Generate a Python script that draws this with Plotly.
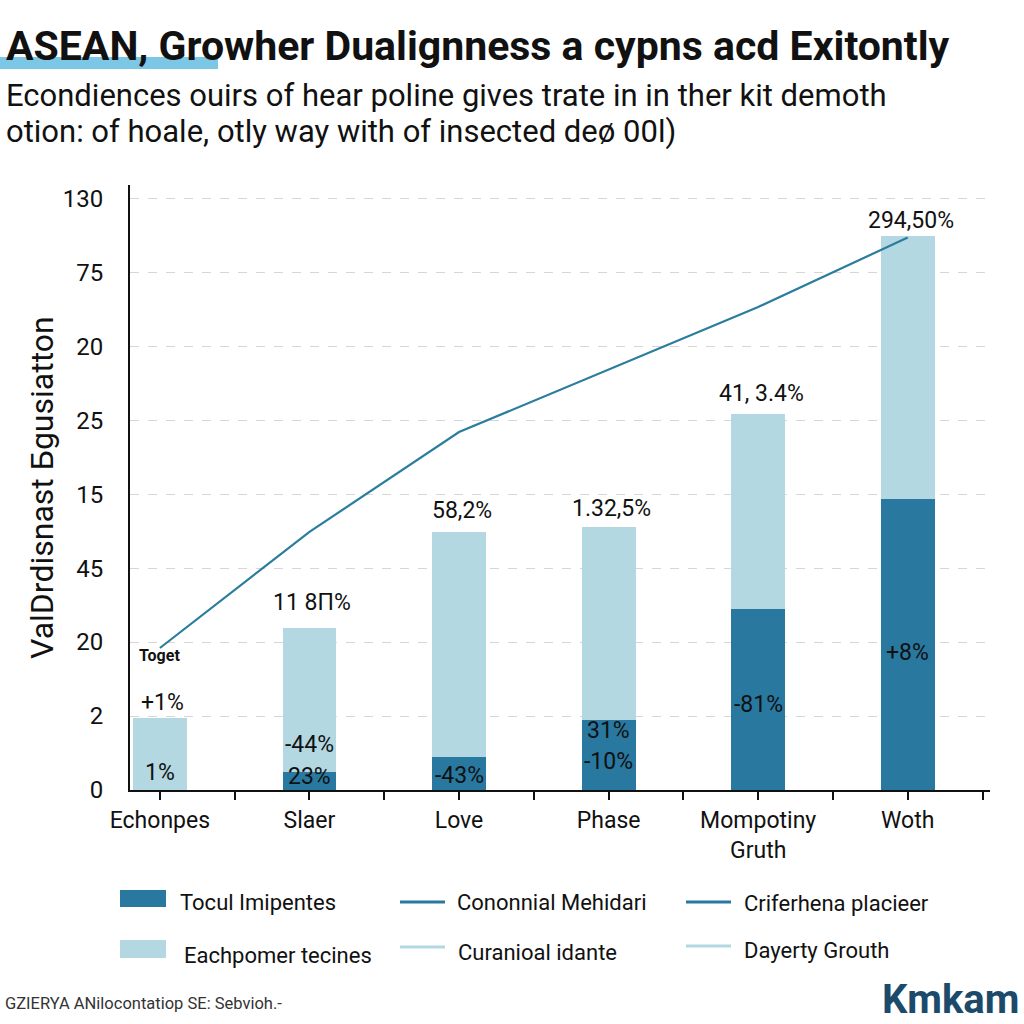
import plotly.graph_objects as go

# ---------------- data ----------------
categories = ["Echonpes", "Slaer", "Love", "Phase", "Mompotiny<br>Gruth", "Woth"]
y_tick_labels = ["0", "2", "20", "45", "15", "25", "20", "75", "130"]
light_totals = [0.97, 2.19, 3.49, 3.55, 5.09, 7.49]   # light bars (tick-slot units)
dark_values = [0.0, 0.24, 0.45, 0.95, 2.45, 3.93]     # dark bars (tick-slot units)
line_values = [1.92, 3.49, 4.84, 5.68, 6.53, 7.47]
top_labels = ["+1%", "11 8Π%", "58,2%", "1.32,5%", "41, 3.4%", "294,50%"]
top_label_y = [1.18, 2.53, 3.78, 3.81, 5.36, 7.70]
inner_labels = [["1%"], ["-44%", "23%"], ["-43%"], ["31%", "-10%"], ["-81%"], ["+8%"]]
inner_label_y = [[0.23], [0.61, 0.18], [0.20], [0.81, 0.38], [1.15], [1.86]]
legend_bars = ["Tocul Imipentes", "Eachpomer tecines"]
legend_lines = ["Cononnial Mehidari", "Criferhena placieer", "Curanioal idante", "Dayerty Grouth"]

DARK = "#2878a0"
LIGHT = "#b3d8e1"
LINE = "#2a7d9c"
FONT = "Roboto, 'Open Sans', sans-serif"

# plot area in pixels
L, R, T, B = 130, 990, 185, 790
def px(x):
    return (x - L) / (R - L)
def py(y):
    return (B - y) / (B - T)

x_idx = list(range(len(categories)))

fig = go.Figure()
fig.add_trace(go.Bar(x=x_idx, y=light_totals, marker_color=LIGHT, width=0.36,
                     marker_line_width=0, showlegend=False, hoverinfo="skip"))
fig.add_trace(go.Bar(x=x_idx, y=dark_values, marker_color=DARK, width=0.36,
                     marker_line_width=0, showlegend=False, hoverinfo="skip"))
fig.add_trace(go.Scatter(x=x_idx, y=line_values, mode="lines",
                         line=dict(color=LINE, width=2.2), showlegend=False, hoverinfo="skip"))

ann = []
for i, (t, yv) in enumerate(zip(top_labels, top_label_y)):
    ann.append(dict(x=i + 0.02, y=yv, text=t, showarrow=False, xref="x", yref="y",
                    font=dict(size=23, color="#111", family=FONT)))
for i, (ts, ys) in enumerate(zip(inner_labels, inner_label_y)):
    for t, yv in zip(ts, ys):
        ann.append(dict(x=i, y=yv, text=t, showarrow=False, xref="x", yref="y",
                        font=dict(size=23, color="#111", family=FONT)))
ann.append(dict(x=0, y=1.82, text="<b>Toget</b>", showarrow=False, xref="x", yref="y",
                font=dict(size=16, color="#111", family=FONT)))

# title / subtitle
ann.append(dict(x=px(4), y=py(46), xref="paper", yref="paper", xanchor="left", yanchor="middle",
                text="<b>ASEAN, Growher Dualignness a cypns acd Exitontly</b>", showarrow=False,
                font=dict(size=41, color="#111", family=FONT)))
ann.append(dict(x=px(4), y=py(95), xref="paper", yref="paper", xanchor="left", yanchor="middle",
                text="Econdiences ouirs of hear poline gives trate in in ther kit demoth", showarrow=False,
                font=dict(size=31, color="#111", family=FONT)))
ann.append(dict(x=px(4), y=py(131), xref="paper", yref="paper", xanchor="left", yanchor="middle",
                text="otion: of hoale, otly way with of insected deø 00l)", showarrow=False,
                font=dict(size=31, color="#111", family=FONT)))

# legend (custom)
shapes = [dict(type="rect", xref="paper", yref="paper", x0=px(0), x1=px(218), y0=py(69), y1=py(57),
               fillcolor="#7cc6e6", line_width=0, layer="below")]
shapes.append(dict(type="rect", xref="paper", yref="paper", x0=px(120), x1=px(166), y0=py(907), y1=py(890),
                   fillcolor=DARK, line_width=0))
shapes.append(dict(type="rect", xref="paper", yref="paper", x0=px(120), x1=px(166), y0=py(958), y1=py(940),
                   fillcolor=LIGHT, line_width=0))
line_items = [(400, 902, DARK), (686, 902, DARK), (400, 947, LIGHT), (686, 946, LIGHT)]
for (x0, yy, c) in line_items:
    shapes.append(dict(type="line", xref="paper", yref="paper", x0=px(x0), x1=px(x0 + 45),
                       y0=py(yy), y1=py(yy), line=dict(color=c, width=3)))
leg_text_pos = [(178, 902), (182, 955)]
for t, (x0, yy) in zip(legend_bars, leg_text_pos):
    ann.append(dict(x=px(x0), y=py(yy), xref="paper", yref="paper", xanchor="left", yanchor="middle",
                    text=t, showarrow=False, font=dict(size=22, color="#111", family=FONT)))
line_text_pos = [(455, 902), (742, 903), (456, 952), (742, 950)]
for t, (x0, yy) in zip(legend_lines, line_text_pos):
    ann.append(dict(x=px(x0), y=py(yy), xref="paper", yref="paper", xanchor="left", yanchor="middle",
                    text=t, showarrow=False, font=dict(size=22, color="#111", family=FONT)))

# footer
ann.append(dict(x=px(3), y=py(1003), xref="paper", yref="paper", xanchor="left", yanchor="middle",
                text="GZIERYA ANilocontatiop SE: Sebvioh.-", showarrow=False,
                font=dict(size=16.5, color="#333", family=FONT)))
ann.append(dict(x=px(1021), y=py(999), xref="paper", yref="paper", xanchor="right", yanchor="middle",
                text="<b>Kmkam</b>", showarrow=False,
                font=dict(size=40, color="#1b4a6b", family=FONT)))

# y axis title
ann.append(dict(x=px(42), y=py(488), xref="paper", yref="paper", xanchor="center", yanchor="middle",
                text="ValDrdisnast Бgusiatton", textangle=-90, showarrow=False,
                font=dict(size=32, color="#111", family=FONT)))

tickvals_x = [v / 2 for v in range(0, 12)]
ticktext_x = [categories[int(v)] if v == int(v) else "" for v in tickvals_x]

fig.update_layout(
    width=1024, height=1024,
    margin=dict(l=L, r=1024 - R, t=T, b=1024 - B, autoexpand=False),
    paper_bgcolor="white", plot_bgcolor="white",
    barmode="overlay", bargap=0,
    annotations=ann, shapes=shapes,
    font=dict(family=FONT, color="#111"),
    xaxis=dict(range=[-0.2, 5.55], tickvals=tickvals_x, ticktext=ticktext_x,
               showline=True, linecolor="#111", linewidth=2, ticks="outside", ticklen=8,
               tickwidth=2, tickcolor="#111", showgrid=False, zeroline=False,
               tickfont=dict(size=23, color="#111", family=FONT)),
    yaxis=dict(range=[0, 8.18], tickvals=list(range(len(y_tick_labels))), ticktext=y_tick_labels,
               showline=True, linecolor="#111", linewidth=2, ticks="", showgrid=True,
               gridcolor="#d6d6d6", griddash="dash", gridwidth=1, zeroline=False,
               ticklabelstandoff=20,
               tickfont=dict(size=24, color="#111", family=FONT)),
)

fig.write_html("out.html", config={"displayModeBar": False},
               post_script="document.body.style.margin='0';document.body.style.padding='0';")
